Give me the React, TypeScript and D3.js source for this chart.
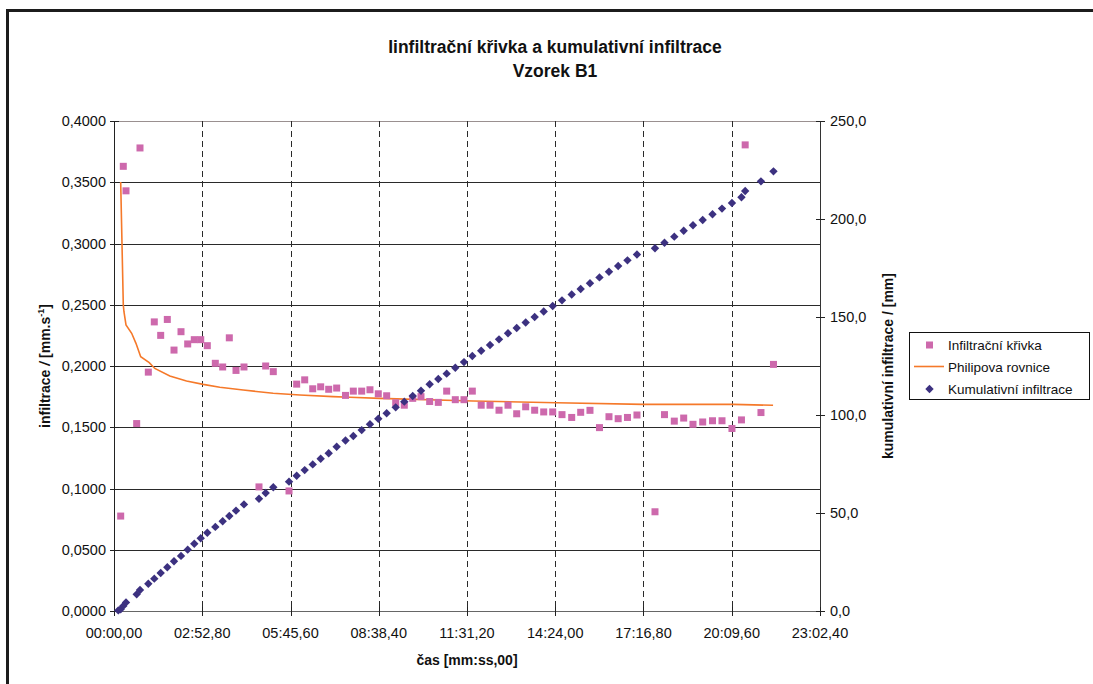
import React from "react";
import * as d3 from "d3";

// Measurement times [s]
const times = [
  8.4, 13.1, 18.2, 23.5, 44.4, 50.9, 67.2, 78.9, 91.4, 104.4, 117.5, 131.2, 144.3, 157.2, 169.8,
  182.7, 198.4, 212.8, 225.8, 238.9, 254.5, 283.9, 297.0, 311.9, 342.7, 357.7, 373.4, 389.1,
  404.7, 420.4, 436.0, 453.3, 468.6, 485.0, 501.2, 517.5, 533.9, 551.6, 568.4, 584.9, 601.1,
  618.1, 635.0, 651.4, 668.3, 685.3, 701.6, 719.0, 736.3, 753.9, 771.5, 788.5, 806.1, 823.7,
  841.4, 859.0, 877.2, 896.2, 913.8, 932.0, 950.6, 969.2, 987.2, 1005.4, 1024.0, 1059.3,
  1077.9, 1097.1, 1115.5, 1133.7, 1152.7, 1171.9, 1190.5, 1210.0, 1228.6, 1235.9, 1266.8, 1291.3,
];

// Infiltration rate [mm/s] (Infiltrační křivka)
const rate: (number | null)[] = [
  null, 0.0775, 0.363, 0.343, 0.153, 0.378, 0.195, 0.236, 0.225, 0.238, 0.213, 0.228, 0.218, 0.2215,
  0.2215, 0.2166, 0.2022, 0.1992, 0.223, 0.1964, 0.1992, 0.1013, 0.2, 0.1954, 0.098, 0.1852,
  0.1887, 0.1814, 0.183, 0.181, 0.182, 0.176, 0.1795, 0.1795, 0.1806, 0.1773, 0.1757, 0.17,
  0.168, 0.1736, 0.175, 0.171, 0.1703, 0.1795, 0.1725, 0.1725, 0.1795, 0.168, 0.168, 0.1639,
  0.168, 0.161, 0.1667, 0.1639, 0.1625, 0.1625, 0.1603, 0.158, 0.1622, 0.1638, 0.1497, 0.1586,
  0.157, 0.158, 0.16, 0.081, 0.1603, 0.155, 0.1575, 0.1524, 0.1543, 0.1553, 0.1553, 0.149,
  0.156, 0.3805, 0.162, 0.2013,
];

// Cumulative infiltration [mm] (Kumulativní infiltrace)
const cumulative = [
  0.3, 0.9, 2.6, 4.4, 8.5, 10.7, 13.9, 16.5, 19.4, 22.3, 25.4, 28.1, 31.3, 34.3, 37.1, 39.9,
  42.9, 45.8, 48.5, 51.2, 54.4, 57.3, 60.2, 63.1, 66.0, 69.0, 71.9, 74.8, 77.7, 80.5, 83.8,
  87.0, 89.3, 92.3, 95.3, 98.1, 100.9, 103.9, 106.8, 109.7, 112.4, 115.7, 118.4, 121.1, 124.1,
  127.0, 130.1, 132.8, 135.7, 138.6, 141.7, 144.4, 147.2, 150.0, 152.8, 155.6, 158.5, 161.5,
  164.3, 167.2, 170.2, 173.1, 176.0, 178.9, 181.9, 185.1, 187.9, 191.0, 194.0, 196.8, 199.5,
  202.4, 205.3, 208.2, 211.1, 214.3, 219.2, 224.3,
];

// Philip equation fit (Philipova rovnice)
const philipT = [
  13.1, 18.2, 19.5, 23.5, 34.6, 43.0, 52.3, 69.0, 79.9, 109.3, 142.0, 174.6, 207.2, 252.9,
  311.6, 363.8, 429.0, 461.7, 520.4, 703.0, 866.4, 1036.0, 1212.2, 1290.5,
];
const philipV = [
  0.3502, 0.2498, 0.2443, 0.2335, 0.2267, 0.2185, 0.2076, 0.2027, 0.198, 0.1918, 0.1878,
  0.185, 0.1826, 0.1804, 0.1777, 0.1763, 0.175, 0.1745, 0.1736, 0.1714, 0.17, 0.1687, 0.1687,
  0.1679,
];

// Axis ticks
const xTicks = [0, 172.8, 345.6, 518.4, 691.2, 864.0, 1036.8, 1209.6, 1382.4];
const yLeftTicks = [0, 0.05, 0.1, 0.15, 0.2, 0.25, 0.3, 0.35, 0.4];
const yRightTicks = [0, 50, 100, 150, 200, 250];

const seriesNames = ["Infiltrační křivka", "Philipova rovnice", "Kumulativní infiltrace"];

const FONT = "'Liberation Sans', Arial, Helvetica, sans-serif";
const PINK = "#CD69AC";
const NAVY = "#3C3180";
const ORANGE = "#F5792A";

const pad2 = (n: number) => (n < 10 ? "0" + n : "" + n);
const fmtTime = (t: number) => {
  const cs = Math.round(t * 100);
  const m = Math.floor(cs / 6000);
  const s = Math.floor((cs % 6000) / 100);
  const c = cs % 100;
  return `${pad2(m)}:${pad2(s)},${pad2(c)}`;
};
const fmtLeft = (v: number) => v.toFixed(4).replace(".", ",");
const fmtRight = (v: number) => v.toFixed(1).replace(".", ",");

export default function App() {
  const W = 1093;
  const H = 684;
  const left = 114;
  const right = 820;
  const top = 121;
  const bottom = 611;

  const x = d3.scaleLinear().domain([0, 1382.4]).range([left, right]);
  const yL = d3.scaleLinear().domain([0, 0.4]).range([bottom, top]);
  const yR = d3.scaleLinear().domain([0, 250]).range([bottom, top]);

  const philipLine = d3
    .line<number>()
    .x((_, i) => x(philipT[i]))
    .y((v) => yL(v))(philipV) as string;

  const sq = 7;
  const dia = 4.2;
  const diamondPath = (cx: number, cy: number) =>
    `M${cx},${cy - dia}L${cx + dia},${cy}L${cx},${cy + dia}L${cx - dia},${cy}Z`;

  return (
    <svg
      width={W}
      height={H}
      style={{ position: "absolute", left: 0, top: 0, background: "#fff" }}
      fontFamily={FONT}
    >
      <rect x={0} y={0} width={W} height={H} fill="#fff" />
      {/* outer frame */}
      <path d={`M${W + 5},10.5 H7.5 V${H + 5}`} fill="none" stroke="#1c1c1c" strokeWidth={3} />

      {/* title */}
      <text x={555} y={53} textAnchor="middle" fontSize={17.5} fontWeight="bold" fill="#111">
        Iinfiltrační křivka a kumulativní infiltrace
      </text>
      <text x={555} y={77} textAnchor="middle" fontSize={17.5} fontWeight="bold" fill="#111">
        Vzorek B1
      </text>

      {/* horizontal gridlines */}
      {yLeftTicks.map((v) => (
        <line
          key={"h" + v}
          x1={left}
          x2={right}
          y1={Math.round(yL(v)) + 0.5}
          y2={Math.round(yL(v)) + 0.5}
          stroke={v === 0.4 ? "#9a9090" : v === 0 ? "#666" : "#2a2a2a"}
          strokeWidth={1}
        />
      ))}
      {/* vertical dashed gridlines */}
      {xTicks.slice(1, -1).map((t) => (
        <line
          key={"v" + t}
          x1={Math.round(x(t)) + 0.5}
          x2={Math.round(x(t)) + 0.5}
          y1={top}
          y2={bottom}
          stroke="#2a2a2a"
          strokeWidth={1}
          strokeDasharray="6 4"
        />
      ))}

      {/* axes */}
      <line x1={left + 0.5} x2={left + 0.5} y1={top} y2={bottom + 4} stroke="#222" />
      <line x1={right + 0.5} x2={right + 0.5} y1={top} y2={bottom + 4} stroke="#333" />
      {yLeftTicks.map((v) => (
        <g key={"lt" + v}>
          <line
            x1={left - 4}
            x2={left + 5}
            y1={Math.round(yL(v)) + 0.5}
            y2={Math.round(yL(v)) + 0.5}
            stroke="#222"
          />
          <text x={106} y={yL(v)} dy="0.36em" textAnchor="end" fontSize={14.5} fill="#111">
            {fmtLeft(v)}
          </text>
        </g>
      ))}
      {yRightTicks.map((v) => (
        <g key={"rt" + v}>
          <line
            x1={right - 4}
            x2={right + 5}
            y1={Math.round(yR(v)) + 0.5}
            y2={Math.round(yR(v)) + 0.5}
            stroke="#222"
          />
          <text x={830} y={yR(v)} dy="0.36em" textAnchor="start" fontSize={14.5} fill="#111">
            {fmtRight(v)}
          </text>
        </g>
      ))}
      {xTicks.map((t) => (
        <g key={"xt" + t}>
          <line
            x1={Math.round(x(t)) + 0.5}
            x2={Math.round(x(t)) + 0.5}
            y1={bottom - 4}
            y2={bottom + 5}
            stroke="#222"
          />
          <text x={x(t)} y={638} textAnchor="middle" fontSize={14.5} fill="#111">
            {fmtTime(t)}
          </text>
        </g>
      ))}

      {/* axis titles */}
      <text x={467} y={665} textAnchor="middle" fontSize={14} fontWeight="bold" fill="#111">
        čas [mm:ss,00]
      </text>
      <text
        transform={`translate(50,${(top + bottom) / 2}) rotate(-90)`}
        textAnchor="middle"
        fontSize={14}
        fontWeight="bold"
        fill="#111"
      >
        infiltrace <tspan fontStyle="italic">/</tspan> [mm.s
        <tspan dy={-6} fontSize={9}>
          -1
        </tspan>
        <tspan dy={6}>]</tspan>
      </text>
      <text
        transform={`translate(893,${(top + bottom) / 2}) rotate(-90)`}
        textAnchor="middle"
        fontSize={14}
        fontWeight="bold"
        fill="#111"
      >
        kumulativní infiltrace / [mm]
      </text>

      {/* Philip equation */}
      <path d={philipLine} fill="none" stroke={ORANGE} strokeWidth={1.6} />

      {/* infiltration rate squares */}
      {times.map((t, i) =>
        rate[i] == null ? null : (
          <rect
            key={"s" + i}
            x={x(t) - sq / 2}
            y={yL(rate[i] as number) - sq / 2}
            width={sq}
            height={sq}
            fill={PINK}
          />
        )
      )}

      {/* cumulative infiltration diamonds */}
      {times.map((t, i) => (
        <path key={"d" + i} d={diamondPath(x(t), yR(cumulative[i]))} fill={NAVY} />
      ))}

      {/* legend */}
      <rect x={909.5} y={332.5} width={180} height={67} fill="#fff" stroke="#111" />
      <rect x={929.5 - 3.5} y={345 - 3.5} width={7} height={7} fill={PINK} />
      <line x1={914} x2={944} y1={366.5} y2={366.5} stroke={ORANGE} strokeWidth={1.6} />
      <path d={diamondPath(929.5, 389)} fill={NAVY} />
      {seriesNames.map((n, i) => (
        <text key={n} x={948} y={345 + i * 22} dy="0.36em" fontSize={13.5} fill="#111">
          {n}
        </text>
      ))}
    </svg>
  );
}
